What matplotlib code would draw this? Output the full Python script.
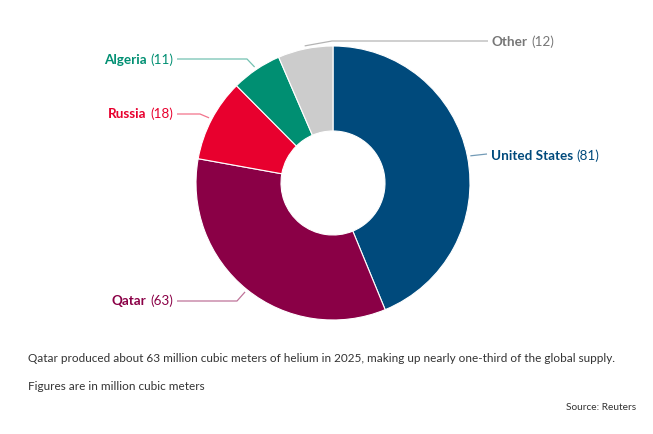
import matplotlib.pyplot as plt
import numpy as np

plt.rcParams['font.family'] = ['Lato', 'DejaVu Sans']

countries = ['United States', 'Qatar', 'Russia', 'Algeria', 'Other']
values = [81, 63, 18, 11, 12]
colors = ['#004a7c', '#8a0046', '#e8002e', '#008f72', '#cccccc']
label_colors = ['#004a7c', '#8a0046', '#e8002e', '#008f72', '#777777']

caption = ('Qatar produced about 63 million cubic meters of helium in 2025, '
           'making up nearly one-third of the global supply.')
note = 'Figures are in million cubic meters'
source = 'Source: Reuters'

W, H = 653, 434
fig = plt.figure(figsize=(W / 100, H / 100), dpi=100)
ax = fig.add_axes([0, 0, 1, 1])

def Y(y):
    # image pixel row -> data y
    return H - y

cx, cy, r_out, r_in = 333, 183, 137, 52
wedges, _ = ax.pie(values, colors=colors, startangle=90, counterclock=False,
                   center=(cx, Y(cy)), radius=r_out,
                   wedgeprops=dict(width=r_out - r_in, edgecolor='white', linewidth=0.8))
ax.set_xlim(0, W)
ax.set_ylim(0, H)
ax.set_aspect('equal')
ax.axis('off')

# leader line layout per slice: (side, elbow point, line end x, text baseline row)
layout = {
    'United States': ('right', (487, 154), 487, 160),
    'Qatar': ('left', (237, 301), 177, 305),
    'Russia': ('left', (200, 114), 177, 118.5),
    'Algeria': ('left', (247, 59), 177, 63.5),
    'Other': ('right', (332, 41), 488, 45.5),
}

fig.canvas.draw()
renderer = fig.canvas.get_renderer()
fs = 9.7
for w, name, val, col in zip(wedges, countries, values, label_colors):
    side, elbow, end_x, base = layout[name]
    mid = np.deg2rad((w.theta1 + w.theta2) / 2)
    sx = cx + np.cos(mid) * (r_out + 3)
    sy = cy - np.sin(mid) * (r_out + 3)
    ax.plot([sx, elbow[0], end_x], [Y(sy), Y(elbow[1]), Y(elbow[1])],
            color=col, lw=0.9, alpha=0.55, solid_capstyle='butt')
    if side == 'right':
        t = ax.text(end_x + 4, Y(base), name, fontsize=fs, fontweight='bold',
                    color=col, ha='left', va='baseline')
        wpx = t.get_window_extent(renderer).width
        ax.text(end_x + 4 + wpx + 3.5, Y(base), f'({val})', fontsize=fs,
                color=col, ha='left', va='baseline')
    else:
        t = ax.text(end_x - 4, Y(base), f'({val})', fontsize=fs,
                    color=col, ha='right', va='baseline')
        wpx = t.get_window_extent(renderer).width
        ax.text(end_x - 4 - wpx - 3.5, Y(base), name, fontsize=fs, fontweight='bold',
                color=col, ha='right', va='baseline')

ax.text(28, Y(358), caption, fontsize=8.5, color='#333333', ha='left', va='center')
ax.text(28, Y(386), note, fontsize=8.5, color='#333333', ha='left', va='center')
ax.text(636, Y(408), source, fontsize=7.3, color='#333333', ha='right', va='center')

fig.savefig('out.png', dpi=100)
